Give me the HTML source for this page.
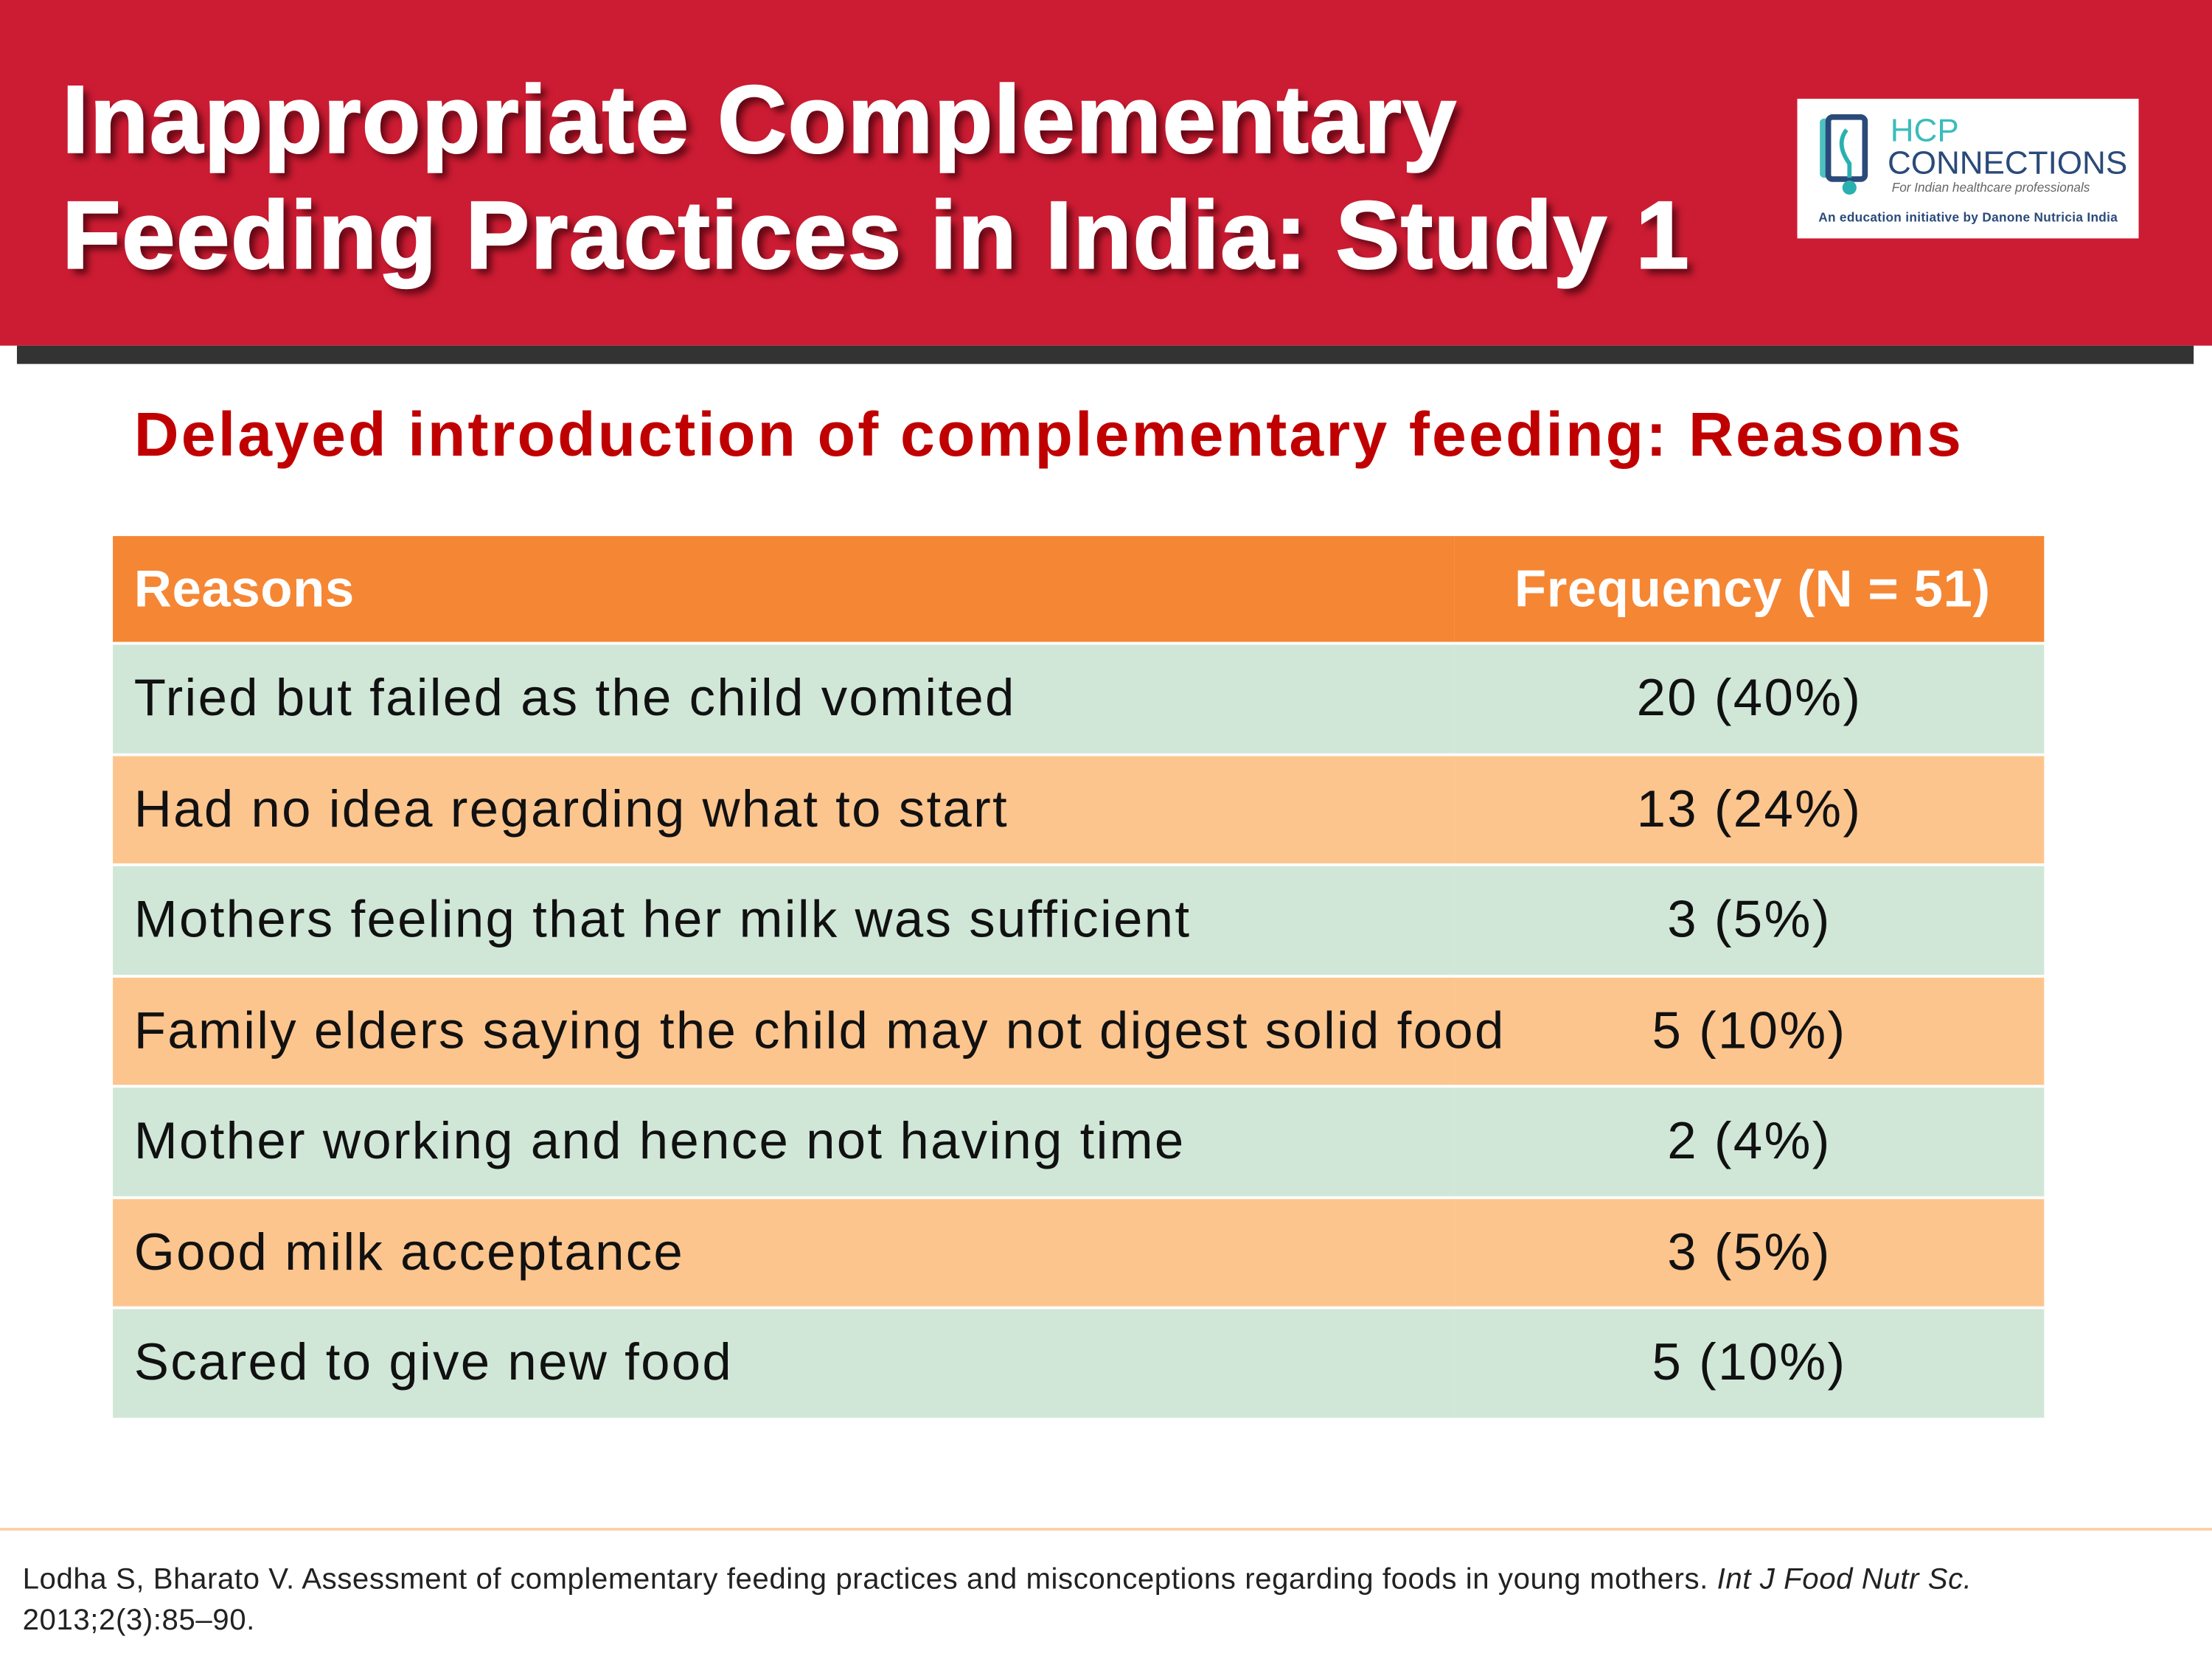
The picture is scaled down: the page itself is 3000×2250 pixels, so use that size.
<!DOCTYPE html>
<html><head><meta charset="utf-8"><style>
html,body{margin:0;padding:0;background:#fff;}
body{width:3000px;height:2250px;overflow:hidden;position:relative;}
#s{position:absolute;left:0;top:0;width:1568px;height:1176px;transform:scale(1.91327);transform-origin:0 0;font-family:"Liberation Sans",sans-serif;}
.hdr{position:absolute;left:0;top:0;width:1568px;height:245px;background:#cc1c33;}
.bar{position:absolute;left:12px;top:245px;width:1543px;height:13px;background:#333;}
.title{position:absolute;left:44px;top:44px;color:#fff;font-weight:bold;font-size:68px;line-height:82px;letter-spacing:0.8px;white-space:nowrap;text-shadow:4px 4px 5px rgba(60,0,10,.75);-webkit-text-stroke:1.2px #fff;}
.logo{position:absolute;left:1274px;top:70px;width:242px;height:99px;background:#fff;}
.sub{position:absolute;left:95px;top:284px;color:#c00000;font-weight:bold;font-size:44px;letter-spacing:1.65px;white-space:nowrap;}
table{position:absolute;left:80px;top:380px;width:1369px;border-collapse:collapse;table-layout:fixed;}
td{height:76px;border-bottom:2.5px solid #fff;padding:0 0 0 15px;font-size:37px;letter-spacing:1.2px;color:#111;white-space:nowrap;}
tr.g td,tr.o td{height:76.5px;}
td.f{text-align:center;width:380px;padding:0 0 0 0;}
tr.h td{background:#f58634;color:#fff;font-weight:bold;height:75px;letter-spacing:0.3px;}
tr.h td.f{text-align:right;padding-right:38px;}
tr.g td{background:#d0e7d8;} tr.o td{background:#fdc58e;}
.fl{position:absolute;left:0;top:1083px;width:1568px;height:2px;background:#fbd0a8;}
.ft{position:absolute;left:16px;top:1105px;font-size:21px;line-height:29px;color:#222;letter-spacing:0.3px;white-space:nowrap;}
</style></head><body>
<div id="s">
<div class="hdr"></div>
<div class="bar"></div>
<div class="title">Inappropriate Complementary<br>Feeding Practices in India: Study 1</div>
<div class="logo">
<svg width="242" height="99" viewBox="0 0 242 99">
<rect x="16" y="14" width="22" height="42" rx="3" fill="#4fc0c0"/>
<rect x="22" y="13" width="26" height="44" rx="3" fill="#fff" stroke="#2a4a7a" stroke-width="4"/>
<path d="M35 22 q-8 10 2 24 v10" stroke="#2ab0b0" stroke-width="3" fill="none"/>
<circle cx="37" cy="63" r="5" fill="#2ab0b0"/>
<text x="66" y="30" font-size="23" fill="#3bbcbc" font-family="Liberation Sans">HCP</text>
<text x="64" y="53" font-size="23" fill="#2a4a7a" font-family="Liberation Sans" textLength="170" lengthAdjust="spacingAndGlyphs">CONNECTIONS</text>
<text x="67" y="66" font-size="9" fill="#666" font-style="italic" font-family="Liberation Sans">For Indian healthcare professionals</text>
<text x="15" y="87" font-size="9" fill="#2a4a7a" font-weight="bold" font-family="Liberation Sans" textLength="212">An education initiative by Danone Nutricia India</text>
</svg></div>
<div class="sub">Delayed introduction of complementary feeding: Reasons</div>
<table>
<tr class="h"><td>Reasons</td><td class="f">Frequency (N = 51)</td></tr>
<tr class="g"><td>Tried but failed as the child vomited</td><td class="f">20 (40%)</td></tr>
<tr class="o"><td>Had no idea regarding what to start</td><td class="f">13 (24%)</td></tr>
<tr class="g"><td>Mothers feeling that her milk was sufficient</td><td class="f">3 (5%)</td></tr>
<tr class="o"><td>Family elders saying the child may not digest solid food</td><td class="f">5 (10%)</td></tr>
<tr class="g"><td>Mother working and hence not having time</td><td class="f">2 (4%)</td></tr>
<tr class="o"><td>Good milk acceptance</td><td class="f">3 (5%)</td></tr>
<tr class="g"><td>Scared to give new food</td><td class="f">5 (10%)</td></tr>
</table>
<div class="fl"></div>
<div class="ft">Lodha S, Bharato V. Assessment of complementary feeding practices and misconceptions regarding foods in young mothers. <i>Int J Food Nutr Sc.</i><br>2013;2(3):85–90.</div>
</div>
</body></html>
